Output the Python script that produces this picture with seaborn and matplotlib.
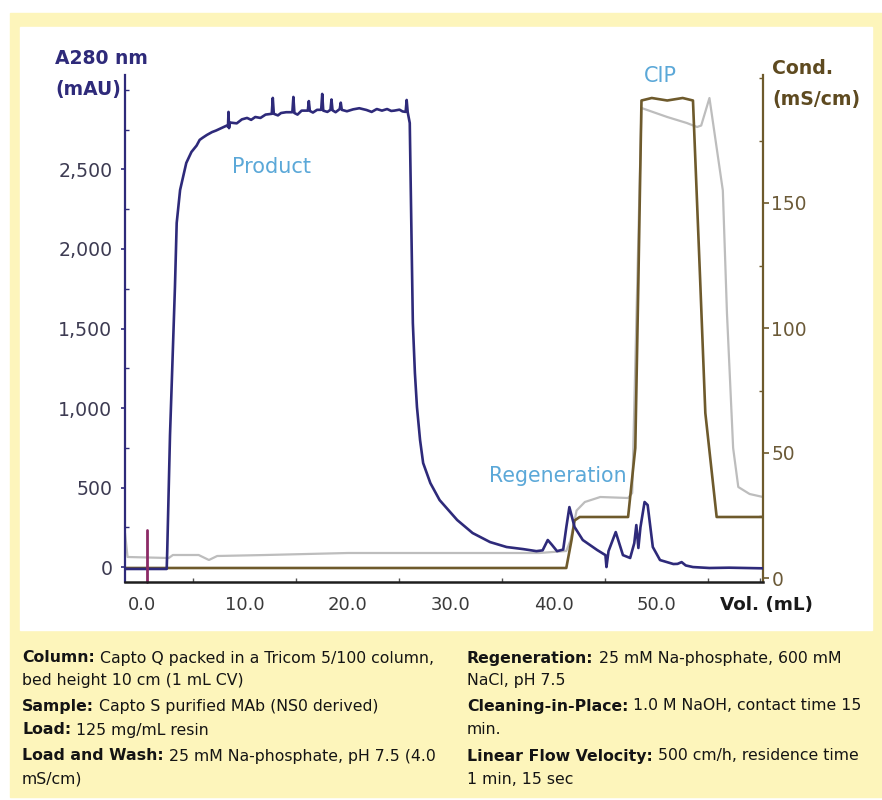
import matplotlib
matplotlib.use("Agg")
import matplotlib.pyplot as plt
from matplotlib.patches import Rectangle
from matplotlib.ticker import MultipleLocator, FuncFormatter, FixedLocator
import pandas as pd
import seaborn as sns

sns.set_theme(style="white")
plt.rcParams["font.family"] = ["DejaVu Sans"]

# ---- chromatogram traces ----
uv_vol = [-1.65, 2.40, 2.45, 2.72, 2.90, 3.20, 3.37, 3.70, 4.30, 4.80, 5.30, 5.60, 5.90, 6.30,
          6.80, 7.20, 7.70, 8.20, 8.35, 8.40, 8.45, 8.55, 9.20, 9.70, 10.2, 10.6, 11.0, 11.5,
          12.0, 12.6, 12.7, 12.8, 13.2, 13.5, 14.0, 14.6, 14.7, 14.8, 15.1, 15.5, 16.1, 16.2,
          16.3, 16.6, 17.0, 17.4, 17.5, 17.6, 18.0, 18.3, 18.4, 18.5, 18.8, 19.2, 19.3, 19.4,
          19.9, 20.5, 21.1, 21.8, 22.3, 22.8, 23.3, 23.8, 24.2, 24.5, 25.0, 25.3, 25.6, 25.7,
          25.8, 26.0, 26.2, 26.3, 26.5, 26.7, 27.0, 27.3, 28.0, 28.9, 30.6, 32.1, 33.8, 35.4,
          37.0, 38.3, 38.9, 39.4, 39.8, 40.3, 40.9, 41.2, 41.5, 42.0, 42.8, 44.2, 45.0, 45.1,
          45.3, 46.0, 46.7, 47.4, 47.8, 48.0, 48.2, 48.4, 48.8, 49.1, 49.6, 50.3, 51.6, 52.0,
          52.4, 52.8, 53.5, 55.1, 57.0, 60.3]
uv_mau = [-12, -12, 100, 830, 1176, 1761, 2164, 2371, 2541, 2610, 2650, 2686, 2700, 2717,
          2735, 2745, 2760, 2775, 2770, 2862, 2760, 2795, 2790, 2815, 2824, 2812, 2830, 2824,
          2845, 2850, 2950, 2850, 2840, 2855, 2860, 2860, 2956, 2855, 2845, 2870, 2870, 2930,
          2868, 2858, 2875, 2875, 2975, 2870, 2862, 2875, 2940, 2872, 2860, 2880, 2920, 2875,
          2866, 2878, 2885, 2874, 2862, 2880, 2870, 2880, 2868, 2870, 2876, 2865, 2862, 2937,
          2860, 2792, 1950, 1535, 1220, 1006, 799, 654, 528, 421, 296, 214, 157, 126,
          113, 100, 105, 170, 140, 100, 110, 250, 377, 252, 170, 107, 75, 0,
          100, 220, 75, 57, 150, 264, 120, 250, 409, 390, 126, 44, 19, 20,
          31, 10, 0, -6, -4, -8]

cond_vol = [-1.65, 41.2, 41.7, 42.0, 42.5, 47.2, 47.9, 48.2, 48.5, 49.5, 51.0, 52.5, 53.5,
            54.2, 54.7, 55.8, 60.3]
cond_ms = [4.0, 4.0, 15, 23, 24.4, 24.4, 52, 119, 191, 192, 191, 192, 191,
           119, 66, 24.4, 24.4]

trace_vol = [-1.65, -1.4, 2.6, 3.0, 5.5, 6.5, 7.3, 12.0, 20.0, 30.0, 38.6, 41.2, 41.6, 42.2,
             43.0, 44.5, 47.2, 47.6, 48.5, 51.0, 52.9, 53.9, 54.3, 55.1, 56.4, 56.8, 57.4,
             57.9, 59.0, 60.3]
trace_ms = [18, 8.4, 8.0, 9.2, 9.2, 7.2, 8.8, 9.2, 10, 10, 10, 10.8, 15, 27,
            30.4, 32.4, 32, 34, 188, 184.4, 182, 180.4, 181, 192, 155, 106, 52,
            36.4, 33.6, 32.4]

sample_mark_vol = [0.5, 0.5]
sample_mark_mau = [-95, 233]

vol_ticks = [0, 10, 20, 30, 40, 50]
mau_ticks = [0, 500, 1000, 1500, 2000, 2500]
cond_ticks = [0, 50, 100, 150]

notes_left = [
    ("Column:", " Capto Q packed in a Tricom 5/100 column,"),
    ("", "bed height 10 cm (1 mL CV)"),
    ("Sample:", " Capto S purified MAb (NS0 derived)"),
    ("Load:", " 125 mg/mL resin"),
    ("Load and Wash:", " 25 mM Na-phosphate, pH 7.5 (4.0"),
    ("", "mS/cm)"),
]
notes_right = [
    ("Regeneration:", " 25 mM Na-phosphate, 600 mM"),
    ("", "NaCl, pH 7.5"),
    ("Cleaning-in-Place:", " 1.0 M NaOH, contact time 15"),
    ("", "min."),
    ("Linear Flow Velocity:", " 500 cm/h, residence time"),
    ("", "1 min, 15 sec"),
]

# ---- colours ----
NAVY = "#2E2A7A"
OLIVE = "#6E5A2C"
GREY = "#BDBDBD"
CYAN = "#5BA8D8"
YELLOW = "#FDF5BB"
MAGENTA = "#8C2A66"

W, H = 882, 800
fig = plt.figure(figsize=(W / 100, H / 100), dpi=100)
fig.patch.set_facecolor("white")


def fx(px):
    return px / W


def fy(py):
    return 1 - py / H


# framed panel
fig.patches.append(Rectangle((fx(10), fy(797)), (W - 10) / W, (797 - 13) / H,
                             transform=fig.transFigure, color=YELLOW, zorder=-10))
fig.patches.append(Rectangle((fx(20), fy(630)), (872 - 20) / W, (630 - 27) / H,
                             transform=fig.transFigure, color="white", zorder=-9))

ax = fig.add_axes([fx(125), fy(582), (763 - 125) / W, (582 - 75) / H])
ax2 = ax.twinx()
ax.set_zorder(ax2.get_zorder() + 1)
ax.patch.set_visible(False)
ax2.patch.set_visible(False)

uv_df = pd.DataFrame({"vol": uv_vol, "mau": uv_mau})
cond_df = pd.DataFrame({"vol": cond_vol, "ms": cond_ms})
trace_df = pd.DataFrame({"vol": trace_vol, "ms": trace_ms})

sns.lineplot(data=trace_df, x="vol", y="ms", ax=ax2, color=GREY, linewidth=1.6,
             estimator=None, sort=False)
sns.lineplot(data=cond_df, x="vol", y="ms", ax=ax2, color=OLIVE, linewidth=1.9,
             estimator=None, sort=False)
sns.lineplot(data=uv_df, x="vol", y="mau", ax=ax, color=NAVY, linewidth=1.9,
             estimator=None, sort=False)
ax.plot(sample_mark_vol, sample_mark_mau, color=MAGENTA, linewidth=2.0, clip_on=False)

ax.set_xlim(-1.65, 60.3)
ax.set_ylim(-94, 3094)
ax2.set_ylim(-1.6, 201.2)

ax.set_xlabel("")
ax.set_ylabel("")
ax2.set_xlabel("")
ax2.set_ylabel("")

ax.xaxis.set_major_locator(FixedLocator(vol_ticks))
ax.xaxis.set_minor_locator(MultipleLocator(5))
ax.xaxis.set_major_formatter(FuncFormatter(lambda v, p: f"{v:.1f}"))
ax.yaxis.set_major_locator(FixedLocator(mau_ticks))
ax.yaxis.set_minor_locator(MultipleLocator(250))
ax.yaxis.set_major_formatter(FuncFormatter(lambda v, p: f"{v:,.0f}"))
ax2.yaxis.set_major_locator(FixedLocator(cond_ticks))
ax2.yaxis.set_minor_locator(MultipleLocator(25))

for s in ["top", "right"]:
    ax.spines[s].set_visible(False)
for s in ["top", "left", "bottom"]:
    ax2.spines[s].set_visible(False)
ax.spines["left"].set_color(NAVY)
ax.spines["left"].set_linewidth(1.6)
ax.spines["bottom"].set_color("#1E1E1E")
ax.spines["bottom"].set_linewidth(1.8)
ax2.spines["right"].set_color(OLIVE)
ax2.spines["right"].set_linewidth(1.6)

ax.tick_params(axis="x", which="major", direction="in", length=3, width=1.0,
               color="#555555", labelsize=13, labelcolor="#3A3A3A", pad=10)
ax.tick_params(axis="x", which="minor", direction="in", length=3, width=1.0,
               color="#555555", bottom=True)
ax.tick_params(axis="y", which="major", direction="out", length=3, width=1.2,
               color=NAVY, labelsize=13.6, labelcolor="#3D3B52", pad=6, left=True)
ax.tick_params(axis="y", which="minor", direction="in", length=3, width=1.0,
               color=NAVY, left=True)
ax2.tick_params(axis="y", which="major", direction="out", length=4, width=1.2,
                color=OLIVE, labelsize=13.4, labelcolor="#6B5A38", pad=2, right=True)
ax2.tick_params(axis="y", which="minor", direction="in", length=3, width=1.0,
                color=OLIVE, right=True)

# axis titles
fig.text(fx(55), fy(59), "A280 nm", fontsize=13.5, fontweight="bold", color=NAVY,
         ha="left", va="center")
fig.text(fx(55), fy(89), "(mAU)", fontsize=13.5, fontweight="bold", color=NAVY,
         ha="left", va="center")
fig.text(fx(772), fy(68), "Cond.", fontsize=13.6, fontweight="bold", color="#5E4A20",
         ha="left", va="center")
fig.text(fx(772), fy(100), "(mS/cm)", fontsize=13.6, fontweight="bold", color="#5E4A20",
         ha="left", va="center")
fig.text(fx(766), fy(605), "Vol. (mL)", fontsize=13.2, fontweight="bold", color="#1A1A1A",
         ha="center", va="center")

# phase labels
ax.text(12.6, 2516, "Product", fontsize=15, color=CYAN, ha="center", va="center")
ax.text(40.4, 572, "Regeneration", fontsize=14.8, color=CYAN, ha="center", va="center")
ax.text(50.3, 3088, "CIP", fontsize=15, color=CYAN, ha="center", va="center",
        clip_on=False)

# method notes below the chart
renderer = fig.canvas.get_renderer()
line_y = [658, 681, 706, 730, 756, 779]


def note_block(x_px, lines):
    for (bold, regular), y_px in zip(lines, line_y):
        x = x_px
        if bold:
            t = fig.text(fx(x), fy(y_px), bold, fontsize=11.3, fontweight="bold",
                         color="#141414", ha="left", va="center")
            x += t.get_window_extent(renderer).width
        fig.text(fx(x), fy(y_px), regular, fontsize=11.3, color="#141414",
                 ha="left", va="center")


note_block(22, notes_left)
note_block(467, notes_right)

fig.savefig("out.png", dpi=100, facecolor=fig.get_facecolor())
